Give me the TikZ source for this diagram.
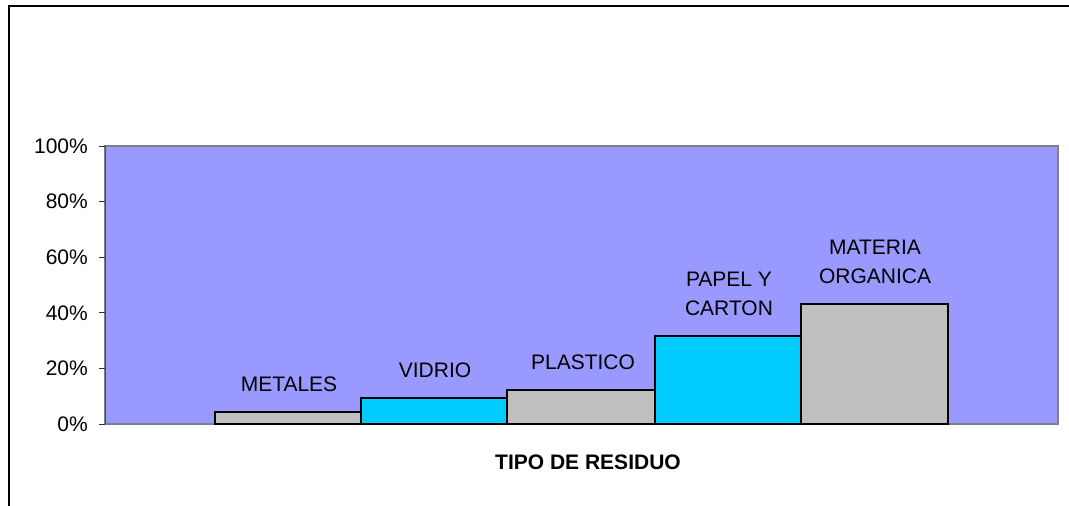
\documentclass[tikz,border=0pt]{standalone}
\usepackage{fontspec}
\setmainfont{Liberation Sans}
\definecolor{plotbg}{HTML}{9999FF}
\definecolor{bargray}{HTML}{C0C0C0}
\definecolor{barcyan}{HTML}{00CCFF}
\begin{document}
\begin{tikzpicture}[x=1pt,y=-1pt,
    barbox/.style={draw=black,line width=1.8pt},
    lbl/.style={font=\fontsize{21}{29}\selectfont,inner sep=0pt,align=center}]
        \useasboundingbox (0,0) rectangle (1069,506);
        \fill[white] (0,0) rectangle (1069,506);
        % frame
        \draw[line width=2.5pt] (9,506) -- (9,6) -- (1069,6);
        % plot area
        \filldraw[fill=plotbg,draw=gray,line width=1.5pt] (105,146) rectangle (1058,424);
        \draw[line width=1pt,black!70] (105,146) -- (105,424);
        \foreach \p in {0,20,...,100} {
            \draw[line width=1pt,black!80] (99,{424-2.78*\p}) -- (105,{424-2.78*\p});
            \node[lbl,anchor=east] (tick\p) at (88,{424-2.78*\p}) {\p\%};
        }
        % bars
        \filldraw[barbox,fill=bargray] (215,424) rectangle (361,412.3);
        \filldraw[barbox,fill=barcyan] (361,424) rectangle (507,398.3);
        \filldraw[barbox,fill=bargray] (507,424) rectangle (655,390);
        \filldraw[barbox,fill=barcyan] (655,424) rectangle (801,336);
        \filldraw[barbox,fill=bargray] (801,424) rectangle (948,304);
        \node[lbl,anchor=south] (metales) at (289,{412.3-20.5}) {METALES};
        \node[lbl,anchor=south] (vidrio) at (435,{398.3-20.5}) {VIDRIO};
        \node[lbl,anchor=south] (plastico) at (583,{390-20.5}) {PLASTICO};
        \node[lbl,anchor=south] (papel) at (729,{336-20.5}) {PAPEL Y\\CARTON};
        \node[lbl,anchor=south] (materia) at (875,{304-20.5}) {MATERIA\\ORGANICA};
        \node[lbl,font=\fontsize{21}{25}\selectfont\bfseries] (titulo) at (588,462) {TIPO DE RESIDUO};
    \end{tikzpicture}
\end{document}
